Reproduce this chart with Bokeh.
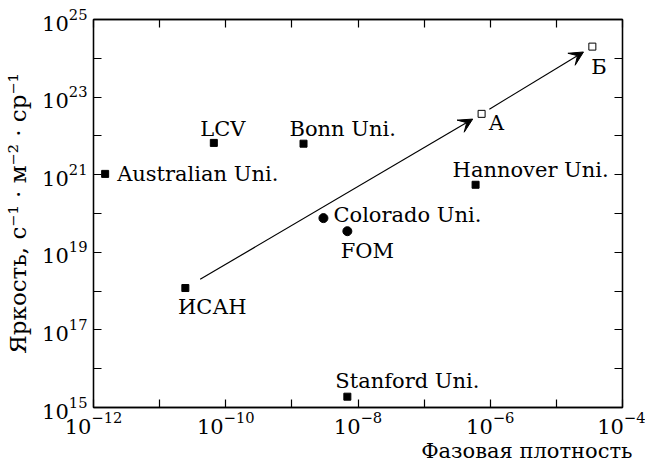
from bokeh.plotting import figure
from bokeh.models import LogAxis, FixedTicker, Arrow, VeeHead, Title, ColumnDataSource
from bokeh.core.properties import value
from bokeh.embed import file_html
from bokeh.resources import INLINE
import math

# ---- data ----
sq_names = ["Australian Uni.", "LCV", "Bonn Uni.", "ИСАН", "Stanford Uni.", "Hannover Uni."]
sq_x = [1.5e-12, 6.6e-11, 1.5e-9, 2.45e-11, 6.9e-9, 6.0e-7]
sq_y = [1.05e21, 6.6e21, 6.3e21, 1.2e18, 1.9e15, 5.5e20]

ci_names = ["Colorado Uni.", "FOM"]
ci_x = [3.0e-9, 6.9e-9]
ci_y = [7.6e19, 3.5e19]

op_names = ["А", "Б"]
op_x = [7.4e-7, 3.5e-5]
op_y = [3.7e22, 2.0e24]

x_ticks = [1e-12, 1e-10, 1e-8, 1e-6, 1e-4]
x_minor = [1e-11, 1e-9, 1e-7, 1e-5]
y_ticks = [1e15, 1e17, 1e19, 1e21, 1e23, 1e25]
y_minor = [1e16, 1e18, 1e20, 1e22, 1e24]

x_label = "Фазовая плотность"
y_label = "Яркость, с⁻¹ · м⁻² · ср⁻¹"

# label styling (pixel offsets, alignment) per label
label_style = {
    "Australian Uni.": (12, 7, "left"),
    "LCV": (9, -7, "center"),
    "Bonn Uni.": (-14, -8, "left"),
    "ИСАН": (27, 26, "center"),
    "Stanford Uni.": (-12, -9, "left"),
    "Hannover Uni.": (-23, -8, "left"),
    "Colorado Uni.": (10, 4, "left"),
    "FOM": (20, 27, "center"),
    "А": (7, 16, "left"),
    "Б": (-1, 27, "left"),
}
BASE_SHIFT = -7

FONT = "DejaVu Serif"

p = figure(width=645, height=462, x_axis_type="log", y_axis_type="log",
           x_range=(1e-12, 1e-4), y_range=(1e15, 1e25),
           output_backend="svg", toolbar_location=None,
           min_border_left=93, min_border_right=23, min_border_top=19, min_border_bottom=54)
p.background_fill_color = "white"
p.border_fill_color = "white"
p.outline_line_color = "black"
p.outline_line_width = 1.3
p.grid.visible = False


def style_axis(ax, ticks, minor, show_labels=True):
    ax.ticker = FixedTicker(ticks=ticks, minor_ticks=minor)
    ax.major_tick_in = 8
    ax.major_tick_out = 0
    ax.minor_tick_in = 8
    ax.minor_tick_out = 0
    ax.major_tick_line_color = "black"
    ax.minor_tick_line_color = "black"
    ax.major_tick_line_width = 1.2
    ax.minor_tick_line_width = 1.2
    ax.axis_line_color = "black"
    ax.axis_line_width = 1.3
    if show_labels:
        ax.major_label_text_font = FONT
        ax.major_label_text_font_size = "21px"
        ax.major_label_text_color = "black"
    else:
        ax.major_label_overrides = {t: "" for t in ticks}
        ax.major_label_text_color = None
        ax.major_label_text_font_size = "2px"
        ax.major_label_standoff = 0


style_axis(p.xaxis[0], x_ticks, x_minor)
style_axis(p.yaxis[0], y_ticks, y_minor)
p.xaxis[0].major_label_standoff = 4
p.yaxis[0].major_label_standoff = 6
p.yaxis[0].axis_label = y_label
p.yaxis[0].axis_label_text_font = FONT
p.yaxis[0].axis_label_text_font_size = "23px"
p.yaxis[0].axis_label_text_font_style = "normal"
p.yaxis[0].axis_label_text_color = "black"
p.yaxis[0].axis_label_standoff = 8

top = LogAxis()
style_axis(top, x_ticks, x_minor, show_labels=False)
p.add_layout(top, "above")
right = LogAxis()
style_axis(right, y_ticks, y_minor, show_labels=False)
p.add_layout(right, "right")

t = Title(text=x_label, align="right", text_font=FONT, text_font_size="21px",
          text_font_style="normal", text_color="black", offset=-10, standoff=0)
p.add_layout(t, "below")

# markers
p.scatter(sq_x, sq_y, marker="square", size=7, fill_color="black", line_color="black")
p.scatter(ci_x, ci_y, marker="circle", size=9, fill_color="black", line_color="black")
p.scatter(op_x, op_y, marker="square", size=7, fill_color="white", line_color="black", line_width=1)

# labels
names = sq_names + ci_names + op_names
xs = sq_x + ci_x + op_x
ys = sq_y + ci_y + op_y
src = ColumnDataSource(dict(
    x=xs, y=ys, text=names,
    dx=[label_style[n][0] for n in names],
    dy=[label_style[n][1] + BASE_SHIFT for n in names],
    align=[label_style[n][2] for n in names],
))
p.text(x="x", y="y", text="text", x_offset="dx", y_offset="dy", text_align="align",
       text_baseline="alphabetic", text_font=value(FONT), text_font_size="21px",
       text_color="black", source=src)


# arrows: ИСАН -> А, А -> Б (shortened in log space)
def lerp_log(a, b, f):
    return 10 ** (math.log10(a) + f * (math.log10(b) - math.log10(a)))


i0 = sq_names.index("ИСАН")
segs = [((sq_x[i0], sq_y[i0]), (op_x[0], op_y[0]), 0.05, 0.97),
        ((op_x[0], op_y[0]), (op_x[1], op_y[1]), 0.07, 0.92)]
for (xa, ya), (xb, yb), f0, f1 in segs:
    p.add_layout(Arrow(end=VeeHead(size=14, fill_color="black", line_color="black", line_width=1),
                       x_start=lerp_log(xa, xb, f0), y_start=lerp_log(ya, yb, f0),
                       x_end=lerp_log(xa, xb, f1), y_end=lerp_log(ya, yb, f1),
                       line_color="black", line_width=1.2))

open("out.html", "w").write(file_html(p, INLINE))
